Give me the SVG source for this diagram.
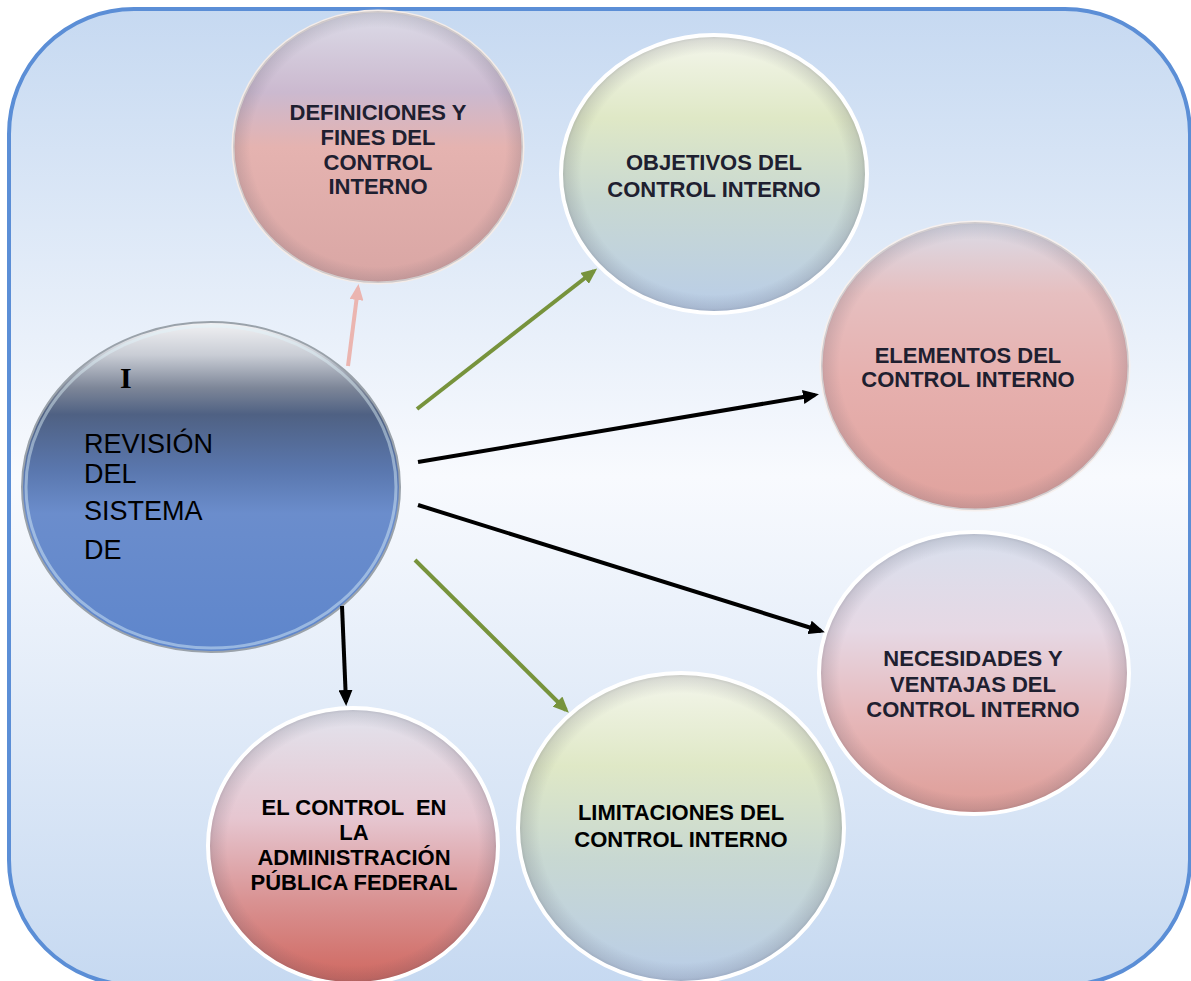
<svg xmlns="http://www.w3.org/2000/svg" width="1191" height="981" viewBox="0 0 1191 981">
<style>
.lbl{font-family:"Liberation Sans",Arial,sans-serif;font-size:22px;font-weight:bold;fill:#1e2030;text-anchor:middle}
.lblk{fill:#000}
.ctr{font-family:"Liberation Sans",Arial,sans-serif;font-size:27px;fill:#000}
.node{stroke:#ffffff;stroke-width:4}
.shade{fill:url(#edge)}
.con{fill:none;stroke-width:4}
</style>
<defs>
<linearGradient id="bg" x1="0" y1="0" x2="0" y2="1">
<stop offset="0" stop-color="#c6d9f1"/>
<stop offset="0.48" stop-color="#f8fafe"/>
<stop offset="1" stop-color="#c6d9f1"/>
</linearGradient>
<radialGradient id="edge" cx="0.5" cy="0.5" r="0.5">
<stop offset="0.88" stop-color="#505060" stop-opacity="0"/>
<stop offset="0.98" stop-color="#505060" stop-opacity="0.16"/>
<stop offset="1" stop-color="#505060" stop-opacity="0.25"/>
</radialGradient>
<linearGradient id="gDef" x1="0" y1="0" x2="0" y2="1">
<stop offset="0" stop-color="#dcdce8"/>
<stop offset="0.3" stop-color="#cbb9cf"/>
<stop offset="0.5" stop-color="#e5b3b0"/>
<stop offset="1" stop-color="#d9a6a4"/>
</linearGradient>
<linearGradient id="gGreen" x1="0" y1="0" x2="0" y2="1">
<stop offset="0" stop-color="#f4f6ec"/>
<stop offset="0.3" stop-color="#dfe8c6"/>
<stop offset="0.6" stop-color="#c8d8d2"/>
<stop offset="1" stop-color="#b9cde8"/>
</linearGradient>
<linearGradient id="gEle" x1="0" y1="0" x2="0" y2="1">
<stop offset="0" stop-color="#dadce8"/>
<stop offset="0.25" stop-color="#e6bfc0"/>
<stop offset="0.55" stop-color="#e6b0ae"/>
<stop offset="1" stop-color="#e0a29d"/>
</linearGradient>
<linearGradient id="gNec" x1="0" y1="0" x2="0" y2="1">
<stop offset="0" stop-color="#d8e0ee"/>
<stop offset="0.35" stop-color="#e6d8e4"/>
<stop offset="0.65" stop-color="#e6b8ba"/>
<stop offset="1" stop-color="#de9c96"/>
</linearGradient>
<linearGradient id="gAdm" x1="0" y1="0" x2="0" y2="1">
<stop offset="0" stop-color="#e2e4ee"/>
<stop offset="0.4" stop-color="#e6c6d0"/>
<stop offset="0.7" stop-color="#d99292"/>
<stop offset="1" stop-color="#cf665e"/>
</linearGradient>
<linearGradient id="gCen" x1="0" y1="0" x2="0" y2="1">
<stop offset="0" stop-color="#f2f2f4"/>
<stop offset="0.1" stop-color="#c9cdd5"/>
<stop offset="0.2" stop-color="#7d8698"/>
<stop offset="0.28" stop-color="#4f6183"/>
<stop offset="0.45" stop-color="#5a77ae"/>
<stop offset="0.58" stop-color="#6b8dcc"/>
<stop offset="1" stop-color="#5e86cc"/>
</linearGradient>
<marker id="aBlack" markerUnits="userSpaceOnUse" markerWidth="16" markerHeight="14" refX="12" refY="7" orient="auto">
<path d="M0,0 L16,7 L0,14 z" fill="#000"/>
</marker>
<marker id="aGreen" markerUnits="userSpaceOnUse" markerWidth="16" markerHeight="14" refX="12" refY="7" orient="auto">
<path d="M0,0 L16,7 L0,14 z" fill="#77933c"/>
</marker>
<marker id="aPink" markerUnits="userSpaceOnUse" markerWidth="16" markerHeight="14" refX="12" refY="7" orient="auto">
<path d="M0,0 L16,7 L0,14 z" fill="#ebb5b0"/>
</marker>
</defs>

<rect width="1191" height="981" fill="#ffffff"/>
<rect id="frame" x="9" y="9" width="1181" height="976" rx="125" ry="125" fill="url(#bg)" stroke="#5b8ed6" stroke-width="4"/>

<g id="n-definiciones">
<ellipse cx="378" cy="147" rx="145" ry="136" fill="url(#gDef)" stroke="#f4ece8" stroke-width="3"/>
<ellipse class="shade" cx="378" cy="147" rx="145" ry="136"/>
<text class="lbl" x="378" y="120">DEFINICIONES Y</text>
<text class="lbl" x="378" y="145">FINES DEL</text>
<text class="lbl" x="378" y="170">CONTROL</text>
<text class="lbl" x="378" y="194">INTERNO</text>
</g>

<g id="n-objetivos">
<ellipse class="node" cx="714" cy="174" rx="153" ry="139" fill="url(#gGreen)"/>
<ellipse class="shade" cx="714" cy="174" rx="151" ry="137"/>
<text class="lbl" x="714" y="170">OBJETIVOS DEL</text>
<text class="lbl" x="714" y="197">CONTROL INTERNO</text>
</g>

<g id="n-elementos">
<ellipse cx="975" cy="366" rx="154" ry="144" fill="url(#gEle)" stroke="#f6f0ee" stroke-width="3"/>
<ellipse class="shade" cx="975" cy="366" rx="154" ry="144"/>
<text class="lbl" x="968" y="363">ELEMENTOS DEL</text>
<text class="lbl" x="968" y="387">CONTROL INTERNO</text>
</g>

<g id="n-necesidades">
<ellipse class="node" cx="974" cy="673" rx="155" ry="141" fill="url(#gNec)"/>
<ellipse class="shade" cx="974" cy="673" rx="153" ry="139"/>
<text class="lbl" x="973" y="666">NECESIDADES Y</text>
<text class="lbl" x="973" y="692">VENTAJAS DEL</text>
<text class="lbl" x="973" y="717">CONTROL INTERNO</text>
</g>

<g id="n-limitaciones">
<ellipse class="node" cx="681" cy="828" rx="163" ry="155" fill="url(#gGreen)"/>
<ellipse class="shade" cx="681" cy="828" rx="161" ry="153"/>
<text class="lbl lblk" x="681" y="820">LIMITACIONES DEL</text>
<text class="lbl lblk" x="681" y="847">CONTROL INTERNO</text>
</g>

<g id="n-administracion">
<ellipse class="node" cx="353" cy="846" rx="145" ry="138" fill="url(#gAdm)"/>
<ellipse class="shade" cx="353" cy="846" rx="143" ry="136"/>
<text class="lbl lblk" x="354" y="815" style="white-space:pre">EL CONTROL  EN</text>
<text class="lbl lblk" x="354" y="840">LA</text>
<text class="lbl lblk" x="354" y="865">ADMINISTRACIÓN</text>
<text class="lbl lblk" x="354" y="890">PÚBLICA FEDERAL</text>
</g>

<g id="n-central">
<ellipse cx="211" cy="487" rx="189" ry="165" fill="url(#gCen)" stroke="#9aa2aa" stroke-width="2"/>
<ellipse cx="211" cy="487" rx="185" ry="161" fill="none" stroke="#dff4fa" stroke-width="3" stroke-opacity="0.45"/>
<text x="120" y="388" style="font-family:'Liberation Serif','Times New Roman',serif;font-size:30px;font-weight:bold;fill:#000">I</text>
<text class="ctr" x="84" y="453">REVISIÓN</text>
<text class="ctr" x="84" y="483">DEL</text>
<text class="ctr" x="84" y="520">SISTEMA</text>
<text class="ctr" x="84" y="559">DE</text>
</g>

<g id="connectors">
<line class="con" x1="348" y1="366" x2="358" y2="288" stroke="#ebb5b0" stroke-width="3.5" marker-end="url(#aPink)"/>
<line class="con" x1="417" y1="409" x2="594" y2="271" stroke="#77933c" marker-end="url(#aGreen)"/>
<line class="con" x1="418" y1="462" x2="815" y2="395" stroke="#000" marker-end="url(#aBlack)"/>
<line class="con" x1="418" y1="505" x2="821" y2="631" stroke="#000" marker-end="url(#aBlack)"/>
<line class="con" x1="415" y1="560" x2="566" y2="710" stroke="#77933c" marker-end="url(#aGreen)"/>
<line class="con" x1="342" y1="606" x2="346" y2="702" stroke="#000" marker-end="url(#aBlack)"/>
</g>
</svg>
